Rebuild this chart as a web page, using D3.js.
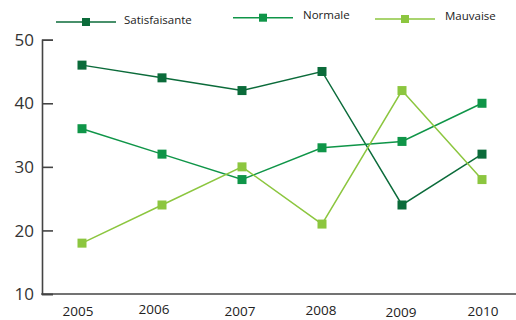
<!DOCTYPE html>
<html><head><meta charset="utf-8">
<script src="https://cdn.jsdelivr.net/npm/d3@7"></script>
<style>body{margin:0;background:#fff}svg{display:block}</style>
</head><body>
<svg id="c" width="516" height="320"></svg>
<script>
const years = ["2005","2006","2007","2008","2009","2010"];
const satisfaisante = [46,44,42,45,24,32];
const normale = [36,32,28,33,34,40];
const mauvaise = [18,24,30,21,42,28];
const yTicks = [10,20,30,40,50];
const seriesNames = ["Satisfaisante","Normale","Mauvaise"];
const seriesColors = ["#0b6b3a","#0f9548","#8cc63f"];

const series = [satisfaisante, normale, mauvaise].map((v,i)=>({name:seriesNames[i], color:seriesColors[i], values:v}));
const svg = d3.select("#c");
const x = d3.scalePoint().domain(years).range([82,482]);
const y = d3.scaleLinear().domain([10,50]).range([294,39.7]);

// y axis
const yAxis = svg.append("g").attr("transform","translate(42,0)")
  .call(d3.axisRight(y).tickValues(yTicks).tickSize(11).tickFormat(""));
yAxis.select(".domain").attr("stroke","#444").attr("stroke-width",1.6);
yAxis.selectAll(".tick line").attr("stroke","#444").attr("stroke-width",1.6);
svg.append("g").selectAll("text").data(yTicks).join("text")
  .attr("x",34).attr("y",d=>y(d)).attr("dy","0.36em").attr("text-anchor","end")
  .attr("font-family","'Open Sans',sans-serif").attr("font-size",17).attr("fill","#333")
  .text(d=>d);

// x axis line
svg.append("line").attr("x1",41.2).attr("x2",516).attr("y1",294).attr("y2",294)
  .attr("stroke","#444").attr("stroke-width",1.6);
const xdx = [-4,-8,-2,-1,-1,1];
const xdy = [315.5,313.5,316,314.5,316.5,315.5];
svg.append("g").selectAll("text").data(years).join("text")
  .attr("x",(d,i)=>x(d)+xdx[i]).attr("y",(d,i)=>xdy[i]).attr("text-anchor","middle")
  .attr("font-family","'Open Sans',sans-serif").attr("font-size",13.5).attr("fill","#222")
  .text(d=>d);

const line = d3.line().x((d,i)=>x(years[i])).y(d=>y(d));
series.forEach(s=>{
  svg.append("path").datum(s.values).attr("d",line).attr("fill","none")
    .attr("stroke",s.color).attr("stroke-width",1.5);
});
series.forEach(s=>{
  svg.append("g").selectAll("rect").data(s.values).join("rect")
    .attr("x",(d,i)=>x(years[i])-4.5).attr("y",d=>y(d)-4.5)
    .attr("width",9).attr("height",9).attr("fill",s.color);
});

// legend
const leg = [{x1:56,x2:116,y:22,tx:124,ty:24},{x1:233,x2:293,y:17.7,tx:303,ty:18.5},{x1:375,x2:435,y:19,tx:445,ty:19.5}];
series.forEach((s,i)=>{
  const l = leg[i];
  const g = svg.append("g");
  g.append("line").attr("x1",l.x1).attr("x2",l.x2).attr("y1",l.y).attr("y2",l.y)
    .attr("stroke",s.color).attr("stroke-width",1.5);
  g.append("rect").attr("x",(l.x1+l.x2)/2-4).attr("y",l.y-4).attr("width",8).attr("height",8).attr("fill",s.color);
  g.append("text").attr("x",l.tx).attr("y",l.ty).attr("font-family","'Open Sans',sans-serif")
    .attr("font-size",11.5).attr("fill","#222").text(s.name);
});
</script>
</body></html>
